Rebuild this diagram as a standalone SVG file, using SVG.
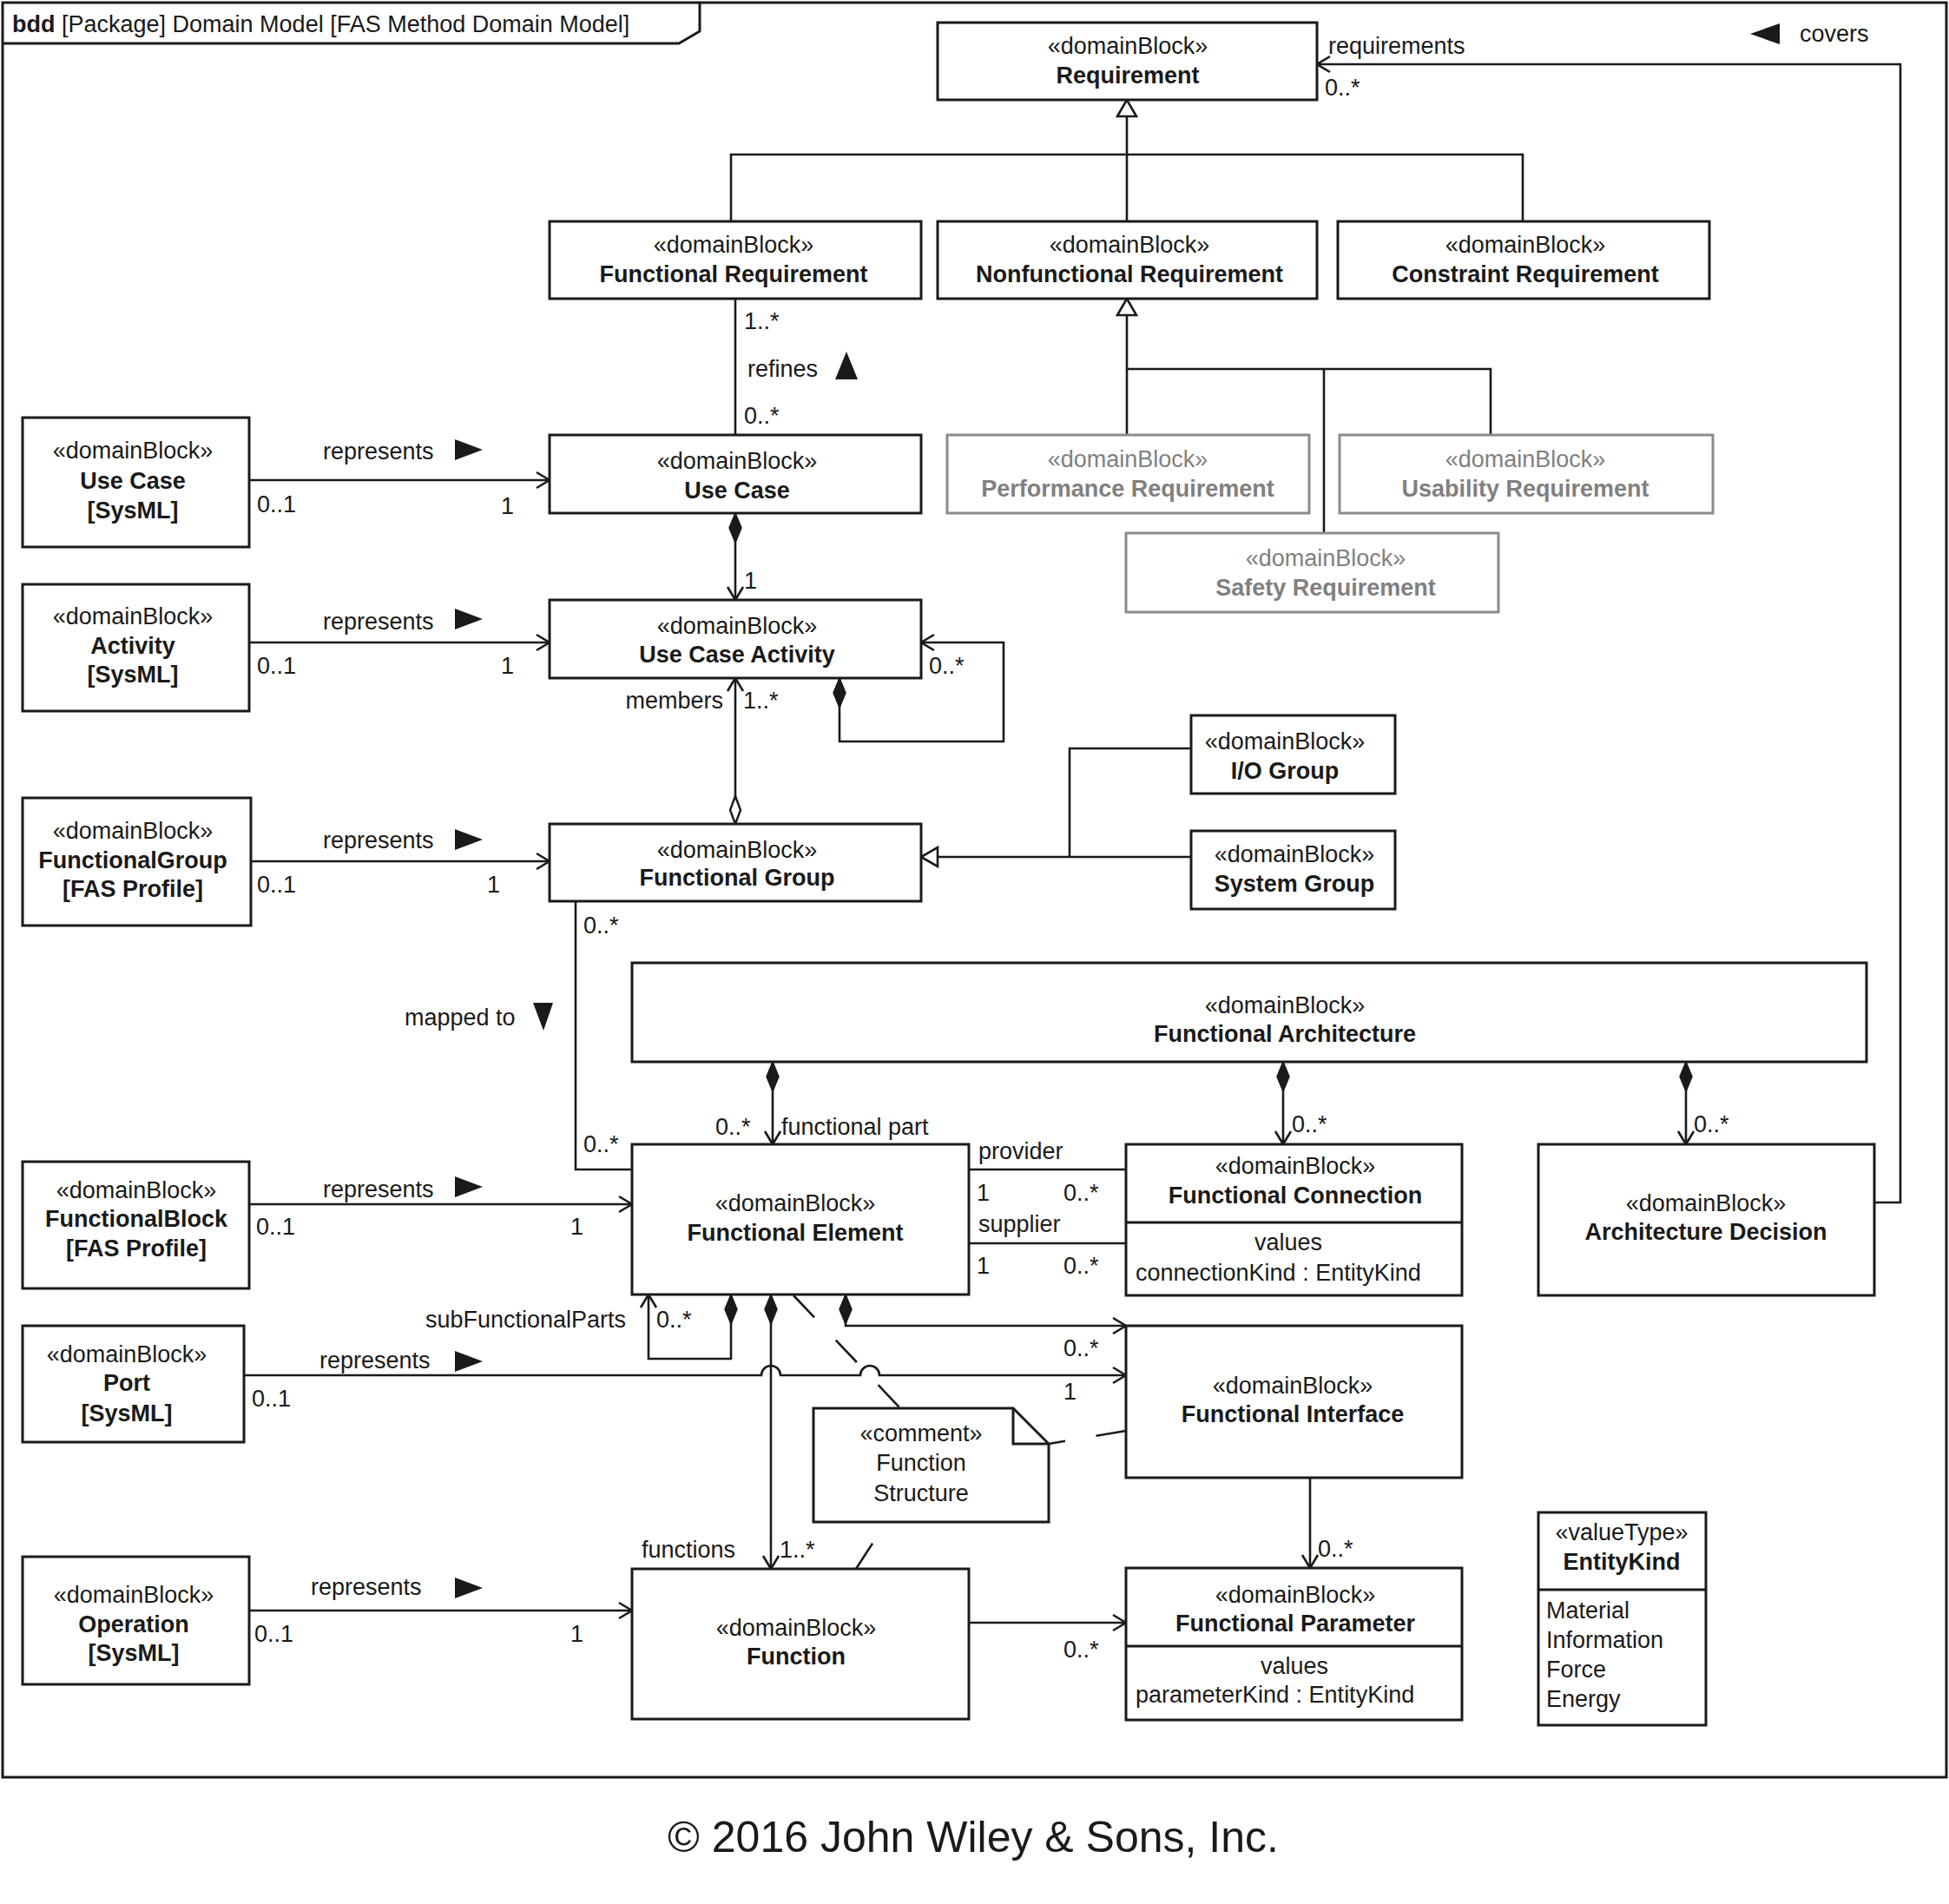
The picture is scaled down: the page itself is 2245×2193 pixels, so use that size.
<svg xmlns="http://www.w3.org/2000/svg" width="2245" height="2193" viewBox="0 0 2245 2193">
<style>
.b{fill:#fff;stroke:#1a1a1a;stroke-width:3}
.g{fill:#fff;stroke:#8c8c8c;stroke-width:3}
.ln{fill:none;stroke:#1a1a1a;stroke-width:2.6}
.dl{fill:none;stroke:#1a1a1a;stroke-width:2.6;stroke-dasharray:35 36}
text{font-family:"Liberation Sans",Arial,sans-serif;font-size:27px;fill:#1a1a1a}
.c{text-anchor:middle}
.e{text-anchor:end}
.n{font-weight:bold}
.gt{fill:#808080}
.tri{fill:#1a1a1a;stroke:none}
</style>
<defs>
<marker id="arr" viewBox="-18 -12 20 24" refX="0" refY="0" markerWidth="20" markerHeight="24" markerUnits="userSpaceOnUse" orient="auto" overflow="visible">
<path d="M-15,-9 L0,0 L-15,9" fill="none" stroke="#1a1a1a" stroke-width="2.6"/>
</marker>
<marker id="dia" viewBox="-1 -9 37 18" refX="0" refY="0" markerWidth="37" markerHeight="18" markerUnits="userSpaceOnUse" orient="auto" overflow="visible">
<path d="M0,0 L17,-7 L34,0 L17,7 Z" fill="#1a1a1a" stroke="#1a1a1a" stroke-width="1.5"/>
</marker>
<marker id="hdia" viewBox="-1 -9 37 18" refX="0" refY="0" markerWidth="37" markerHeight="18" markerUnits="userSpaceOnUse" orient="auto" overflow="visible">
<path d="M0,0 L16,-6 L32,0 L16,6 Z" fill="#fff" stroke="#1a1a1a" stroke-width="2.4"/>
</marker>
<marker id="gen" viewBox="-22 -14 24 28" refX="0" refY="0" markerWidth="24" markerHeight="28" markerUnits="userSpaceOnUse" orient="auto" overflow="visible">
<path d="M0,0 L-19,-11 L-19,11 Z" fill="#fff" stroke="#1a1a1a" stroke-width="2.6"/>
</marker>
</defs>
<rect x="0" y="0" width="2245" height="2193" fill="#fff"/>

<g id="frame">
<rect x="3" y="3" width="2239" height="2044" fill="none" stroke="#1a1a1a" stroke-width="3"/>
<path d="M3,50 L782,50 L806,36 L806,3" fill="none" stroke="#1a1a1a" stroke-width="3"/>
<text x="14" y="37"><tspan class="n">bdd</tspan> [Package] Domain Model [FAS Method Domain Model]</text>
</g>

<g id="connectors">
<path class="ln" d="M1298,178 L1298,115" marker-end="url(#gen)"/>
<path class="ln" d="M842,255 L842,178 L1754,178 L1754,255 M1298,178 L1298,255"/>
<path class="ln" d="M1298,425 L1298,344" marker-end="url(#gen)"/>
<path class="ln" d="M1298,425 L1298,501 M1298,425 L1717,425 L1717,501 M1525,425 L1525,614"/>
<path class="ln" d="M847,344 L847,501"/>
<path class="ln" d="M287,553 L633,553" marker-end="url(#arr)"/>
<path class="ln" d="M287,740 L633,740" marker-end="url(#arr)"/>
<path class="ln" d="M289,992 L633,992" marker-end="url(#arr)"/>
<path class="ln" d="M287,1387 L728,1387" marker-end="url(#arr)"/>
<path class="ln" d="M281,1584 L877,1584 A11,11 0 0 1 899,1584 L991,1584 A11,11 0 0 1 1013,1584 L1297,1584" marker-end="url(#arr)"/>
<path class="ln" d="M287,1855 L728,1855" marker-end="url(#arr)"/>
<path class="ln" d="M847,591 L847,691" marker-start="url(#dia)" marker-end="url(#arr)"/>
<path class="ln" d="M967,781 L967,854 L1156,854 L1156,740 L1061,740" marker-start="url(#dia)" marker-end="url(#arr)"/>
<path class="ln" d="M847,949 L847,781" marker-start="url(#hdia)" marker-end="url(#arr)"/>
<path class="ln" d="M1372,987 L1061,987" marker-end="url(#gen)"/>
<path class="ln" d="M1232,987 L1232,862 L1372,862"/>
<path class="ln" d="M663,1038 L663,1347 L728,1347"/>
<path class="ln" d="M890,1223 L890,1318" marker-start="url(#dia)" marker-end="url(#arr)"/>
<path class="ln" d="M1478,1223 L1478,1318" marker-start="url(#dia)" marker-end="url(#arr)"/>
<path class="ln" d="M1942,1223 L1942,1318" marker-start="url(#dia)" marker-end="url(#arr)"/>
<path class="ln" d="M1116,1347 L1297,1347 M1116,1432 L1297,1432"/>
<path class="ln" d="M2159,1385 L2189,1385 L2189,74 L1517,74" marker-end="url(#arr)"/>
<path class="ln" d="M974,1491 L974,1527 L1297,1527" marker-start="url(#dia)" marker-end="url(#arr)"/>
<path class="ln" d="M842,1491 L842,1565 L747,1565 L747,1491" marker-start="url(#dia)" marker-end="url(#arr)"/>
<path class="ln" d="M888,1491 L888,1807" marker-start="url(#dia)" marker-end="url(#arr)"/>
<path class="ln" d="M1116,1869 L1297,1869" marker-end="url(#arr)"/>
<path class="ln" d="M1509,1702 L1509,1806" marker-end="url(#arr)"/>
<path class="dl" d="M914,1492 L1037,1622"/>
<path class="dl" d="M1297,1648 L1208,1663"/>
<path class="dl" d="M986,1807 L1021,1753"/>
</g>

<g id="labels">
<text x="857" y="379">1..*</text>
<text x="861" y="434">refines</text>
<polygon class="tri" points="975,405 962,437 988,437"/>
<text x="857" y="488">0..*</text>
<text x="372" y="529">represents</text>
<polygon class="tri" points="524,506 556,518 524,530"/>
<text x="296" y="590">0..1</text>
<text x="577" y="592">1</text>
<text x="857" y="678">1</text>
<text x="372" y="725">represents</text>
<polygon class="tri" points="524,701 556,713 524,725"/>
<text x="296" y="776">0..1</text>
<text x="577" y="776">1</text>
<text x="1070" y="776">0..*</text>
<text class="e" x="833" y="816">members</text>
<text x="856" y="816">1..*</text>
<text x="372" y="977">represents</text>
<polygon class="tri" points="524,955 556,967 524,979"/>
<text x="296" y="1028">0..1</text>
<text x="561" y="1028">1</text>
<text x="672" y="1075">0..*</text>
<text x="466" y="1181">mapped to</text>
<polygon class="tri" points="614,1155 637,1155 626,1187"/>
<text x="672" y="1327">0..*</text>
<text x="824" y="1307">0..*</text>
<text x="900" y="1307">functional part</text>
<text x="1488" y="1304">0..*</text>
<text x="1951" y="1304">0..*</text>
<text x="372" y="1379">represents</text>
<polygon class="tri" points="524,1355 556,1367 524,1379"/>
<text x="295" y="1422">0..1</text>
<text x="657" y="1422">1</text>
<text x="1127" y="1335">provider</text>
<text x="1125" y="1383">1</text>
<text x="1225" y="1383">0..*</text>
<text x="1127" y="1419">supplier</text>
<text x="1125" y="1467">1</text>
<text x="1225" y="1467">0..*</text>
<text x="1530" y="62">requirements</text>
<text x="1526" y="110">0..*</text>
<polygon class="tri" points="2016,39 2050,27 2050,51"/>
<text x="2073" y="48">covers</text>
<text class="e" x="721" y="1529">subFunctionalParts</text>
<text x="756" y="1529">0..*</text>
<text x="368" y="1576">represents</text>
<polygon class="tri" points="524,1556 556,1568 524,1580"/>
<text x="290" y="1620">0..1</text>
<text x="1225" y="1562">0..*</text>
<text x="1225" y="1612">1</text>
<text class="e" x="847" y="1794">functions</text>
<text x="898" y="1794">1..*</text>
<text x="1518" y="1793">0..*</text>
<text x="358" y="1837">represents</text>
<polygon class="tri" points="524,1817 556,1829 524,1841"/>
<text x="293" y="1891">0..1</text>
<text x="657" y="1891">1</text>
<text x="1225" y="1909">0..*</text>
</g>

<g id="requirement">
<rect class="b" x="1080" y="26" width="437" height="89"/>
<text class="c" x="1299" y="62">«domainBlock»</text>
<text class="c n" x="1299" y="96">Requirement</text>
</g>
<g id="functional-requirement">
<rect class="b" x="633" y="255" width="428" height="89"/>
<text class="c" x="845" y="291">«domainBlock»</text>
<text class="c n" x="845" y="325">Functional Requirement</text>
</g>
<g id="nonfunctional-requirement">
<rect class="b" x="1080" y="255" width="437" height="89"/>
<text class="c" x="1301" y="291">«domainBlock»</text>
<text class="c n" x="1301" y="325">Nonfunctional Requirement</text>
</g>
<g id="constraint-requirement">
<rect class="b" x="1541" y="255" width="428" height="89"/>
<text class="c" x="1757" y="291">«domainBlock»</text>
<text class="c n" x="1757" y="325">Constraint Requirement</text>
</g>
<g id="performance-requirement">
<rect class="g" x="1091" y="501" width="417" height="90"/>
<text class="c gt" x="1299" y="538">«domainBlock»</text>
<text class="c n gt" x="1299" y="572">Performance Requirement</text>
</g>
<g id="usability-requirement">
<rect class="g" x="1543" y="501" width="430" height="90"/>
<text class="c gt" x="1757" y="538">«domainBlock»</text>
<text class="c n gt" x="1757" y="572">Usability Requirement</text>
</g>
<g id="safety-requirement">
<rect class="g" x="1297" y="614" width="429" height="91"/>
<text class="c gt" x="1527" y="652">«domainBlock»</text>
<text class="c n gt" x="1527" y="686">Safety Requirement</text>
</g>

<g id="use-case-sysml">
<rect class="b" x="26" y="481" width="261" height="149"/>
<text class="c" x="153" y="528">«domainBlock»</text>
<text class="c n" x="153" y="563">Use Case</text>
<text class="c n" x="153" y="597">[SysML]</text>
</g>
<g id="use-case">
<rect class="b" x="633" y="501" width="428" height="90"/>
<text class="c" x="849" y="540">«domainBlock»</text>
<text class="c n" x="849" y="574">Use Case</text>
</g>
<g id="activity-sysml">
<rect class="b" x="26" y="673" width="261" height="146"/>
<text class="c" x="153" y="719">«domainBlock»</text>
<text class="c n" x="153" y="753">Activity</text>
<text class="c n" x="153" y="786">[SysML]</text>
</g>
<g id="use-case-activity">
<rect class="b" x="633" y="691" width="428" height="90"/>
<text class="c" x="849" y="730">«domainBlock»</text>
<text class="c n" x="849" y="763">Use Case Activity</text>
</g>
<g id="functionalgroup-fas">
<rect class="b" x="26" y="919" width="263" height="147"/>
<text class="c" x="153" y="966">«domainBlock»</text>
<text class="c n" x="153" y="1000">FunctionalGroup</text>
<text class="c n" x="153" y="1033">[FAS Profile]</text>
</g>
<g id="functional-group">
<rect class="b" x="633" y="949" width="428" height="89"/>
<text class="c" x="849" y="988">«domainBlock»</text>
<text class="c n" x="849" y="1020">Functional Group</text>
</g>
<g id="io-group">
<rect class="b" x="1372" y="824" width="235" height="90"/>
<text class="c" x="1480" y="863">«domainBlock»</text>
<text class="c n" x="1480" y="897">I/O Group</text>
</g>
<g id="system-group">
<rect class="b" x="1372" y="957" width="235" height="90"/>
<text class="c" x="1491" y="993">«domainBlock»</text>
<text class="c n" x="1491" y="1027">System Group</text>
</g>
<g id="functional-architecture">
<rect class="b" x="728" y="1109" width="1422" height="114"/>
<text class="c" x="1480" y="1167">«domainBlock»</text>
<text class="c n" x="1480" y="1200">Functional Architecture</text>
</g>
<g id="functionalblock-fas">
<rect class="b" x="26" y="1338" width="261" height="146"/>
<text class="c" x="157" y="1380">«domainBlock»</text>
<text class="c n" x="157" y="1413">FunctionalBlock</text>
<text class="c n" x="157" y="1447">[FAS Profile]</text>
</g>
<g id="functional-element">
<rect class="b" x="728" y="1318" width="388" height="173"/>
<text class="c" x="916" y="1395">«domainBlock»</text>
<text class="c n" x="916" y="1429">Functional Element</text>
</g>
<g id="functional-connection">
<rect class="b" x="1297" y="1318" width="387" height="174"/>
<line x1="1297" y1="1408" x2="1684" y2="1408" stroke="#1a1a1a" stroke-width="3"/>
<text class="c" x="1492" y="1352">«domainBlock»</text>
<text class="c n" x="1492" y="1386">Functional Connection</text>
<text class="c" x="1484" y="1440">values</text>
<text x="1308" y="1475">connectionKind : EntityKind</text>
</g>
<g id="architecture-decision">
<rect class="b" x="1772" y="1318" width="387" height="174"/>
<text class="c" x="1965" y="1395">«domainBlock»</text>
<text class="c n" x="1965" y="1428">Architecture Decision</text>
</g>
<g id="port-sysml">
<rect class="b" x="26" y="1527" width="255" height="134"/>
<text class="c" x="146" y="1569">«domainBlock»</text>
<text class="c n" x="146" y="1602">Port</text>
<text class="c n" x="146" y="1637">[SysML]</text>
</g>
<g id="functional-interface">
<rect class="b" x="1297" y="1527" width="387" height="175"/>
<text class="c" x="1489" y="1605">«domainBlock»</text>
<text class="c n" x="1489" y="1638">Functional Interface</text>
</g>
<g id="comment">
<path d="M937,1622 L1167,1622 L1208,1663 L1208,1753 L937,1753 Z" fill="#fff" stroke="#1a1a1a" stroke-width="3"/>
<path d="M1167,1622 L1167,1663 L1208,1663" fill="none" stroke="#1a1a1a" stroke-width="3"/>
<text class="c" x="1061" y="1660">«comment»</text>
<text class="c" x="1061" y="1694">Function</text>
<text class="c" x="1061" y="1729">Structure</text>
</g>
<g id="operation-sysml">
<rect class="b" x="26" y="1793" width="261" height="147"/>
<text class="c" x="154" y="1846">«domainBlock»</text>
<text class="c n" x="154" y="1880">Operation</text>
<text class="c n" x="154" y="1913">[SysML]</text>
</g>
<g id="function">
<rect class="b" x="728" y="1807" width="388" height="173"/>
<text class="c" x="917" y="1884">«domainBlock»</text>
<text class="c n" x="917" y="1917">Function</text>
</g>
<g id="functional-parameter">
<rect class="b" x="1297" y="1806" width="387" height="175"/>
<line x1="1297" y1="1896" x2="1684" y2="1896" stroke="#1a1a1a" stroke-width="3"/>
<text class="c" x="1492" y="1846">«domainBlock»</text>
<text class="c n" x="1492" y="1879">Functional Parameter</text>
<text class="c" x="1491" y="1928">values</text>
<text x="1308" y="1961">parameterKind : EntityKind</text>
</g>
<g id="entitykind">
<rect class="b" x="1772" y="1742" width="193" height="245"/>
<line x1="1772" y1="1831" x2="1965" y2="1831" stroke="#1a1a1a" stroke-width="3"/>
<text class="c" x="1868" y="1774">«valueType»</text>
<text class="c n" x="1868" y="1808">EntityKind</text>
<text x="1781" y="1864">Material</text>
<text x="1781" y="1898">Information</text>
<text x="1781" y="1932">Force</text>
<text x="1781" y="1966">Energy</text>
</g>

<text class="c" x="1121" y="2133" style="font-size:50px">© 2016 John Wiley &amp; Sons, Inc.</text>
</svg>
